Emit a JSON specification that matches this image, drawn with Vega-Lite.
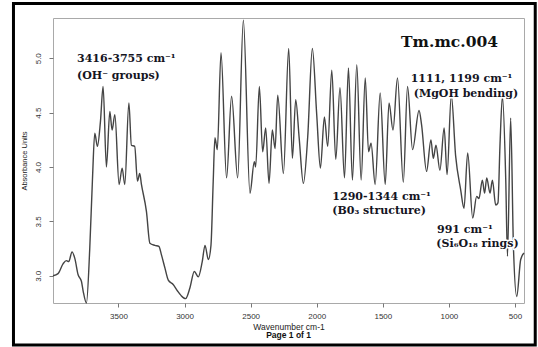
{
  "$schema": "https://vega.github.io/schema/vega-lite/v6.json",
  "width": 471,
  "height": 285,
  "autosize": {"type": "none"},
  "padding": {"left": 53, "top": 18, "right": 14, "bottom": 44},
  "background": "white",
  "config": {
    "view": {"stroke": "#a9a9a9", "strokeWidth": 1},
    "font": "Liberation Sans",
    "axis": {
      "labelFont": "Liberation Sans",
      "titleFont": "Liberation Sans",
      "labelColor": "#333333",
      "titleColor": "#222222",
      "tickColor": "#777777",
      "domain": false,
      "grid": false,
      "titleFontWeight": "normal"
    }
  },
  "datasets": {
    "spectrum": [
      {"wavenumber": 3995, "absorbance": 3.00}, {"wavenumber": 3957, "absorbance": 3.02},
      {"wavenumber": 3919, "absorbance": 3.11}, {"wavenumber": 3894, "absorbance": 3.14},
      {"wavenumber": 3876, "absorbance": 3.13}, {"wavenumber": 3851, "absorbance": 3.22},
      {"wavenumber": 3830, "absorbance": 3.16}, {"wavenumber": 3805, "absorbance": 3.01},
      {"wavenumber": 3780, "absorbance": 2.95}, {"wavenumber": 3767, "absorbance": 2.86},
      {"wavenumber": 3742, "absorbance": 2.75}, {"wavenumber": 3717, "absorbance": 3.25},
      {"wavenumber": 3697, "absorbance": 3.87}, {"wavenumber": 3679, "absorbance": 4.31},
      {"wavenumber": 3659, "absorbance": 4.19}, {"wavenumber": 3636, "absorbance": 4.42},
      {"wavenumber": 3616, "absorbance": 4.74}, {"wavenumber": 3591, "absorbance": 4.00},
      {"wavenumber": 3565, "absorbance": 4.51}, {"wavenumber": 3548, "absorbance": 4.34},
      {"wavenumber": 3527, "absorbance": 4.48}, {"wavenumber": 3495, "absorbance": 3.84},
      {"wavenumber": 3472, "absorbance": 3.99}, {"wavenumber": 3452, "absorbance": 3.84},
      {"wavenumber": 3421, "absorbance": 4.59}, {"wavenumber": 3402, "absorbance": 4.20},
      {"wavenumber": 3377, "absorbance": 4.19}, {"wavenumber": 3356, "absorbance": 3.87},
      {"wavenumber": 3339, "absorbance": 3.94}, {"wavenumber": 3326, "absorbance": 3.84},
      {"wavenumber": 3288, "absorbance": 3.59}, {"wavenumber": 3262, "absorbance": 3.30},
      {"wavenumber": 3224, "absorbance": 3.28}, {"wavenumber": 3194, "absorbance": 3.27},
      {"wavenumber": 3174, "absorbance": 3.19}, {"wavenumber": 3148, "absorbance": 3.07},
      {"wavenumber": 3123, "absorbance": 2.96}, {"wavenumber": 3086, "absorbance": 2.92},
      {"wavenumber": 3053, "absorbance": 2.86}, {"wavenumber": 3027, "absorbance": 2.82},
      {"wavenumber": 2992, "absorbance": 2.79}, {"wavenumber": 2959, "absorbance": 2.89},
      {"wavenumber": 2926, "absorbance": 3.04}, {"wavenumber": 2896, "absorbance": 2.99},
      {"wavenumber": 2866, "absorbance": 3.13}, {"wavenumber": 2845, "absorbance": 3.28},
      {"wavenumber": 2820, "absorbance": 3.15}, {"wavenumber": 2800, "absorbance": 3.28},
      {"wavenumber": 2783, "absorbance": 3.87}, {"wavenumber": 2770, "absorbance": 4.27},
      {"wavenumber": 2752, "absorbance": 4.16}, {"wavenumber": 2724, "absorbance": 5.05},
      {"wavenumber": 2682, "absorbance": 3.90}, {"wavenumber": 2644, "absorbance": 4.65},
      {"wavenumber": 2598, "absorbance": 3.90}, {"wavenumber": 2555, "absorbance": 5.35},
      {"wavenumber": 2505, "absorbance": 3.76}, {"wavenumber": 2472, "absorbance": 4.05},
      {"wavenumber": 2462, "absorbance": 4.00}, {"wavenumber": 2434, "absorbance": 4.74},
      {"wavenumber": 2409, "absorbance": 4.14}, {"wavenumber": 2386, "absorbance": 4.36},
      {"wavenumber": 2361, "absorbance": 3.85}, {"wavenumber": 2336, "absorbance": 4.34},
      {"wavenumber": 2315, "absorbance": 4.17}, {"wavenumber": 2295, "absorbance": 4.66},
      {"wavenumber": 2252, "absorbance": 3.94}, {"wavenumber": 2212, "absorbance": 5.09},
      {"wavenumber": 2184, "absorbance": 4.08}, {"wavenumber": 2159, "absorbance": 4.62},
      {"wavenumber": 2133, "absorbance": 4.27}, {"wavenumber": 2101, "absorbance": 3.85},
      {"wavenumber": 2068, "absorbance": 4.28}, {"wavenumber": 2033, "absorbance": 5.09},
      {"wavenumber": 2000, "absorbance": 4.48}, {"wavenumber": 1972, "absorbance": 3.99},
      {"wavenumber": 1942, "absorbance": 4.46}, {"wavenumber": 1917, "absorbance": 4.19},
      {"wavenumber": 1886, "absorbance": 4.89}, {"wavenumber": 1856, "absorbance": 4.07},
      {"wavenumber": 1824, "absorbance": 4.73}, {"wavenumber": 1790, "absorbance": 3.90},
      {"wavenumber": 1760, "absorbance": 4.91}, {"wavenumber": 1730, "absorbance": 3.88},
      {"wavenumber": 1697, "absorbance": 4.94}, {"wavenumber": 1664, "absorbance": 3.88},
      {"wavenumber": 1633, "absorbance": 4.82}, {"wavenumber": 1608, "absorbance": 4.14},
      {"wavenumber": 1589, "absorbance": 4.22}, {"wavenumber": 1558, "absorbance": 3.84},
      {"wavenumber": 1520, "absorbance": 4.68}, {"wavenumber": 1482, "absorbance": 3.84},
      {"wavenumber": 1453, "absorbance": 4.59}, {"wavenumber": 1423, "absorbance": 4.34},
      {"wavenumber": 1389, "absorbance": 4.82}, {"wavenumber": 1345, "absorbance": 3.86},
      {"wavenumber": 1313, "absorbance": 4.74}, {"wavenumber": 1275, "absorbance": 4.16},
      {"wavenumber": 1226, "absorbance": 4.52}, {"wavenumber": 1207, "absorbance": 4.39},
      {"wavenumber": 1169, "absorbance": 3.96}, {"wavenumber": 1136, "absorbance": 4.25},
      {"wavenumber": 1118, "absorbance": 4.08}, {"wavenumber": 1098, "absorbance": 4.20},
      {"wavenumber": 1068, "absorbance": 3.97}, {"wavenumber": 1036, "absorbance": 4.36},
      {"wavenumber": 1014, "absorbance": 3.93}, {"wavenumber": 982, "absorbance": 4.66},
      {"wavenumber": 949, "absorbance": 4.10}, {"wavenumber": 911, "absorbance": 3.79},
      {"wavenumber": 886, "absorbance": 3.62}, {"wavenumber": 858, "absorbance": 4.13},
      {"wavenumber": 820, "absorbance": 3.53}, {"wavenumber": 790, "absorbance": 3.73},
      {"wavenumber": 773, "absorbance": 3.71}, {"wavenumber": 747, "absorbance": 3.88},
      {"wavenumber": 730, "absorbance": 3.76}, {"wavenumber": 714, "absorbance": 3.90},
      {"wavenumber": 689, "absorbance": 3.76}, {"wavenumber": 671, "absorbance": 3.88},
      {"wavenumber": 646, "absorbance": 3.65}, {"wavenumber": 629, "absorbance": 3.67},
      {"wavenumber": 614, "absorbance": 4.19}, {"wavenumber": 595, "absorbance": 4.65},
      {"wavenumber": 570, "absorbance": 3.88}, {"wavenumber": 557, "absorbance": 3.18},
      {"wavenumber": 533, "absorbance": 4.45}, {"wavenumber": 512, "absorbance": 3.27},
      {"wavenumber": 487, "absorbance": 2.81}, {"wavenumber": 457, "absorbance": 3.15},
      {"wavenumber": 432, "absorbance": 3.21}
    ],
    "bands": [
      {"wavenumber": 3813, "absorbance": 4.966, "label": "3416-3755 cm⁻¹"},
      {"wavenumber": 3813, "absorbance": 4.809, "label": "(OH⁻ groups)"},
      {"wavenumber": 1289, "absorbance": 4.784, "label": "1111, 1199 cm⁻¹"},
      {"wavenumber": 1266, "absorbance": 4.647, "label": "(MgOH bending)"},
      {"wavenumber": 1882, "absorbance": 3.697, "label": "1290-1344 cm⁻¹"},
      {"wavenumber": 1882, "absorbance": 3.568, "label": "(B0₃ structure)"},
      {"wavenumber": 1090, "absorbance": 3.391, "label": "991 cm⁻¹"},
      {"wavenumber": 1095, "absorbance": 3.268, "label": "(Si₆O₁₈ rings)"}
    ],
    "sample": [
      {"wavenumber": 1362, "absorbance": 5.103, "label": "Tm.mc.004"}
    ],
    "page": [
      {"wavenumber": 2213, "absorbance": 2.428, "label": "Page 1 of 1"}
    ]
  },
  "encoding": {
    "x": {
      "field": "wavenumber",
      "type": "quantitative",
      "scale": {"domain": [432, 3995], "reverse": true, "nice": false, "zero": false},
      "axis": {
        "values": [3500, 3000, 2500, 2000, 1500, 1000, 500],
        "format": "d",
        "title": "Wavenumber cm-1",
        "tickSize": 4,
        "labelFontSize": 8,
        "labelPadding": 5,
        "titleFontSize": 8.5,
        "titlePadding": 2
      }
    },
    "y": {
      "field": "absorbance",
      "type": "quantitative",
      "scale": {"domain": [2.75, 5.37], "nice": false, "zero": false},
      "axis": {
        "values": [3.0, 3.5, 4.0, 4.5, 5.0],
        "format": ".1f",
        "title": "Absorbance Units",
        "tickSize": 4,
        "labelAngle": -90,
        "labelAlign": "center",
        "labelBaseline": "bottom",
        "labelFontSize": 8,
        "labelPadding": 7,
        "titleFontSize": 7.5,
        "titlePadding": 6
      }
    }
  },
  "layer": [
    {
      "data": {"values": [{"left": 4294, "right": 347, "top": 5.504, "bottom": 2.365}]},
      "mark": {"type": "rect", "filled": false, "color": "#000000", "strokeWidth": 3, "clip": false},
      "encoding": {
        "x": {"field": "left", "type": "quantitative"},
        "x2": {"field": "right"},
        "y": {"field": "top", "type": "quantitative"},
        "y2": {"field": "bottom"}
      }
    },
    {
      "data": {"name": "spectrum"},
      "mark": {"type": "line", "interpolate": "monotone", "color": "#444444", "strokeWidth": 1.4}
    },
    {
      "data": {"name": "bands"},
      "mark": {"type": "text", "align": "left", "baseline": "alphabetic", "font": "DejaVu Serif", "fontWeight": "bold", "fontSize": 11, "fill": "white", "stroke": "white", "strokeWidth": 3, "strokeJoin": "round"},
      "encoding": {"text": {"field": "label"}}
    },
    {
      "data": {"name": "bands"},
      "mark": {"type": "text", "align": "left", "baseline": "alphabetic", "font": "DejaVu Serif", "fontWeight": "bold", "fontSize": 11, "color": "#15151f"},
      "encoding": {"text": {"field": "label"}}
    },
    {
      "data": {"name": "sample"},
      "mark": {"type": "text", "align": "left", "baseline": "alphabetic", "font": "DejaVu Serif", "fontWeight": "bold", "fontSize": 15.5, "color": "#111111"},
      "encoding": {"text": {"field": "label"}}
    },
    {
      "data": {"name": "page"},
      "mark": {"type": "text", "align": "center", "baseline": "alphabetic", "font": "Liberation Sans", "fontWeight": "bold", "fontSize": 8.5, "color": "#111111", "clip": false},
      "encoding": {"text": {"field": "label"}}
    }
  ]
}
